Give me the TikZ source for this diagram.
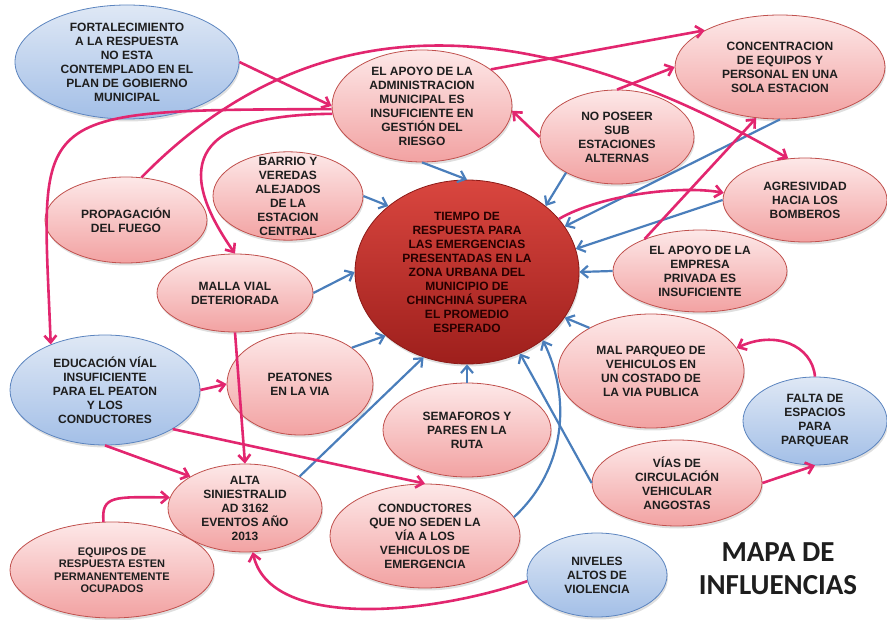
\documentclass[tikz,border=0pt]{standalone}
\usepackage{fontspec}
\setmainfont{Liberation Sans}
\newfontfamily\titlefont{Carlito}
\usepackage{tikz}
\usetikzlibrary{%
  arrows.meta,%
  shapes.geometric,%
  shadows%
}
\definecolor{pinkline}{HTML}{E2266F}
\definecolor{blueline}{HTML}{4A7EBB}
\definecolor{causetop}{HTML}{FDE8E8}
\definecolor{causebot}{HTML}{F2A2A2}
\definecolor{causeedge}{HTML}{C0504D}
\definecolor{roottop}{HTML}{DFE8F5}
\definecolor{rootbot}{HTML}{A3BFE7}
\definecolor{rootedge}{HTML}{5B84BF}
\definecolor{coretop}{HTML}{D9463F}
\definecolor{corebot}{HTML}{9E1F1C}
\definecolor{coreedge}{HTML}{8C1A17}
\definecolor{txt}{HTML}{1E1E1E}
\tikzset{>={Straight Barb[length=7pt,width=12pt]}}
\tikzset{cause/.style = {ellipse, draw=causeedge, line width=0.8pt,
        top color=causetop, bottom color=causebot, inner sep=-8pt,
        align=center, text=txt, font=\fontsize{12}{14}\selectfont\bfseries,
        drop shadow={opacity=0.25, shadow xshift=1pt, shadow yshift=-2.5pt}},
    root/.style = {cause, draw=rootedge, top color=roottop, bottom color=rootbot},
    core/.style = {cause, draw=coreedge, top color=coretop, bottom color=corebot,
        text=black!85!red},
    influence/.style = {->, draw=pinkline, line width=2.6pt},
    effect/.style = {->, draw=blueline, line width=2.2pt}}

\begin{document}
\begin{tikzpicture}[x=1pt, y=-1pt]
        \useasboundingbox (0,0) rectangle (887,620);
        \node[root, minimum width=224, minimum height=114] (fort) at (127,62)
        {FORTALECIMIENTO\\A LA RESPUESTA\\NO ESTA\\CONTEMPLADO EN EL\\PLAN DE GOBIERNO\\MUNICIPAL};
        \node[cause, minimum width=180, minimum height=112] (admin) at (422,106)
        {EL APOYO DE LA\\ADMINISTRACION\\MUNICIPAL ES\\INSUFICIENTE EN\\GESTIÓN DEL\\RIESGO};
        \node[cause, minimum width=210, minimum height=104] (conc) at (780,67)
        {CONCENTRACION\\DE EQUIPOS Y\\PERSONAL EN UNA\\SOLA ESTACION};
        \node[cause, minimum width=154, minimum height=94] (noposeer) at (617,137)
        {NO POSEER\\SUB\\ESTACIONES\\ALTERNAS};
        \node[cause, minimum width=164, minimum height=84] (agres) at (805,200)
        {AGRESIVIDAD\\HACIA LOS\\BOMBEROS};
        \node[cause, minimum width=174, minimum height=82] (empresa) at (700,271)
        {EL APOYO DE LA\\EMPRESA\\PRIVADA ES\\INSUFICIENTE};
        \node[core, minimum width=224, minimum height=184] (central) at (467,272)
        {TIEMPO DE\\RESPUESTA PARA\\LAS EMERGENCIAS\\PRESENTADAS EN LA\\ZONA URBANA DEL\\MUNICIPIO DE\\CHINCHINÁ SUPERA\\EL PROMEDIO\\ESPERADO};
        \node[cause, minimum width=150, minimum height=88] (barrio) at (288,196)
        {BARRIO Y\\VEREDAS\\ALEJADOS\\DE LA\\ESTACION\\CENTRAL};
        \node[cause, minimum width=162, minimum height=86] (propag) at (126,220)
        {PROPAGACIÓN\\DEL FUEGO};
        \node[cause, minimum width=156, minimum height=78] (malla) at (235,293)
        {MALLA VIAL\\DETERIORADA};
        \node[root, minimum width=190, minimum height=110] (educ) at (105,390)
        {EDUCACIÓN VÍAL\\INSUFICIENTE\\PARA EL PEATON\\Y LOS\\CONDUCTORES};
        \node[cause, minimum width=146, minimum height=102] (peatones) at (300,384)
        {PEATONES\\EN LA VIA};
        \node[cause, minimum width=168, minimum height=94] (semaforos) at (467,430)
        {SEMAFOROS Y\\PARES EN LA\\RUTA};
        \node[cause, minimum width=154, minimum height=88] (alta) at (245,508)
        {ALTA\\SINIESTRALID\\AD 3162\\EVENTOS AÑO\\2013};
        \node[cause, minimum width=190, minimum height=104] (conduct) at (425,536)
        {CONDUCTORES\\QUE NO SEDEN LA\\VÍA A LOS\\VEHICULOS DE\\EMERGENCIA};
        \node[cause, minimum width=204, minimum height=96,
        font=\fontsize{11}{12.5}\selectfont\bfseries] (equipos) at (112,570)
        {EQUIPOS DE\\RESPUESTA ESTEN\\PERMANENTEMENTE\\OCUPADOS};
        \node[root, minimum width=140, minimum height=84] (niveles) at (597,575)
        {NIVELES\\ALTOS DE\\VIOLENCIA};
        \node[cause, minimum width=186, minimum height=114] (malparq) at (651,371)
        {MAL PARQUEO DE\\VEHICULOS EN\\UN COSTADO DE\\LA VIA PUBLICA};
        \node[cause, minimum width=170, minimum height=86] (vias) at (677,483)
        {VÍAS DE\\CIRCULACIÓN\\VEHICULAR\\ANGOSTAS};
        \node[root, minimum width=144, minimum height=88] (falta) at (815,421)
        {FALTA DE\\ESPACIOS\\PARA\\PARQUEAR};
        \node[align=center, text=txt, font=\titlefont\fontsize{29}{33}\selectfont\bfseries]
        (title) at (778,569) {MAPA DE\\INFLUENCIAS};

        \draw[effect] (admin.south) -- (central.north);
        \draw[effect] (barrio.east) -- (central.140);
        \draw[effect] (malla.east) -- (central.west);
        \draw[effect] (peatones.35) -- (central.218);
        \draw[effect] (alta.30) -- (central.243);
        \draw[effect] (semaforos.north) -- (central.south);
        \draw[effect] (conduct.12) .. controls (565,470) and (572,400) .. (central.318);
        \draw[effect] (vias.west) -- (central.303);
        \draw[effect] (malparq.145) -- (central.335);
        \draw[effect] (noposeer.215) -- (central.40);
        \draw[effect] (conc.south) -- (central.25);
        \draw[effect] (agres.west) -- (central.12);
        \draw[effect] (empresa.west) -- (central.east);

        \draw[influence] (fort.east) -- (admin.west);
        \draw[influence] (admin.182) .. controls (20,110) and (42,110) .. (educ.140);
        \draw[influence] (admin.185) .. controls (180,115) and (180,175) .. (malla.north);
        \draw[influence] (propag.70) .. controls (320,-5) and (540,15) .. (agres.112);
        \draw[influence] (admin.28) -- (conc.154);
        \draw[influence] (noposeer.north) -- (conc.west);
        \draw[influence] (noposeer.west) -- (admin.357);
        \draw[influence] (empresa.150) -- (conc.245);
        \draw[influence] (central.30) .. controls (600,195) and (680,185) .. (agres.175);
        \draw[influence] (educ.east) -- (peatones.west);
        \draw[influence] (educ.south) -- (alta.150);
        \draw[influence] (educ.330) -- (conduct.north);
        \draw[influence] (malla.south) -- (alta.north);
        \draw[influence] (equipos.100) .. controls (101,495) and (115,497) .. (alta.172);
        \draw[influence] (niveles.185) .. controls (430,615) and (270,630) .. (alta.280);
        \draw[influence] (vias.east) -- (falta.south);
        \draw[influence] (falta.north) .. controls (812,345) and (775,330) .. (malparq.15);
\end{tikzpicture}
\end{document}
